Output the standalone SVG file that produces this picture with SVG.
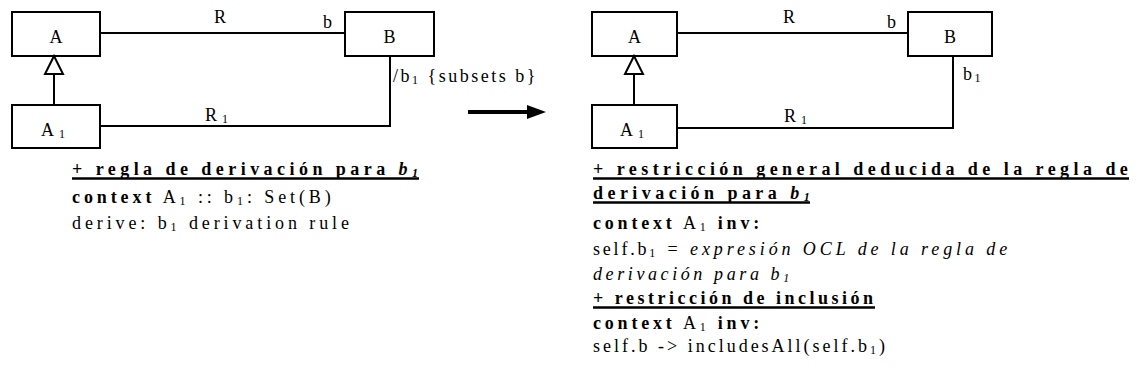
<svg xmlns="http://www.w3.org/2000/svg" width="1136" height="380" viewBox="0 0 1136 380">
  <style>
    text { font-family: "Liberation Serif", "Times New Roman", serif; fill: #000; }
    .box { fill: #fff; stroke: #000; stroke-width: 2; }
    .ln { fill: none; stroke: #000; stroke-width: 2; }
    .gen { fill: #fff; stroke: #000; stroke-width: 2; stroke-linejoin: miter; }
    .lbl { font-size: 18px; }
    .rl { font-size: 18px; }
    .t { font-size: 18px; letter-spacing: 3.9px; }
    .h { font-weight: bold; letter-spacing: 4.45px; }
    .b { font-weight: bold; }
    .i { font-style: italic; }
    .sub { font-size: 12px; }
    .ul { stroke: #000; stroke-width: 2.5; }
  </style>

  <!-- left model: derived end b1 -->
  <g id="l-A">
    <rect class="box" x="12" y="12" width="88" height="44"/>
    <text class="lbl" x="56" y="43" text-anchor="middle">A</text>
  </g>
  <g id="l-B">
    <rect class="box" x="345" y="12" width="89" height="44"/>
    <text class="lbl" x="389.5" y="43" text-anchor="middle">B</text>
  </g>
  <g id="l-A1">
    <rect class="box" x="12" y="105" width="88" height="43"/>
    <text class="lbl" x="41" y="136">A<tspan class="sub" dx="5" dy="2">1</tspan></text>
  </g>

  <!-- right model: b1 as a base end -->
  <g id="r-A">
    <rect class="box" x="592" y="12" width="85" height="44"/>
    <text class="lbl" x="634.5" y="43" text-anchor="middle">A</text>
  </g>
  <g id="r-B">
    <rect class="box" x="908" y="12" width="84" height="44"/>
    <text class="lbl" x="950" y="43" text-anchor="middle">B</text>
  </g>
  <g id="r-A1">
    <rect class="box" x="592" y="105" width="85" height="43"/>
    <text class="lbl" x="620" y="136">A<tspan class="sub" dx="5" dy="2">1</tspan></text>
  </g>

  <g id="connectors">
    <!-- left -->
    <line class="ln" x1="100" y1="33" x2="345" y2="33"/>
    <line class="ln" x1="54" y1="105" x2="54" y2="74"/>
    <polygon class="gen" points="54,56 45,74 63,74"/>
    <polyline class="ln" points="100,126 390,126 390,56"/>
    <text class="rl" x="220" y="23" text-anchor="middle">R</text>
    <text class="rl" x="323" y="28">b</text>
    <text class="rl" x="205" y="121">R<tspan class="sub" dx="5" dy="2">1</tspan></text>
    <text class="t" x="393" y="82" style="letter-spacing:2.5px">/b<tspan class="sub" dy="2">1</tspan><tspan dy="-2"> {subsets b}</tspan></text>

    <!-- transformation arrow -->
    <line x1="468" y1="112" x2="530" y2="112" stroke="#000" stroke-width="4"/>
    <polygon points="527,105 546,112 527,119" fill="#000"/>

    <!-- right -->
    <line class="ln" x1="677" y1="33" x2="908" y2="33"/>
    <line class="ln" x1="634" y1="105" x2="634" y2="74"/>
    <polygon class="gen" points="634,56 625,74 643,74"/>
    <polyline class="ln" points="677,128 953,128 953,56"/>
    <text class="rl" x="789" y="23" text-anchor="middle">R</text>
    <text class="rl" x="887" y="28">b</text>
    <text class="rl" x="784" y="122">R<tspan class="sub" dx="5" dy="2">1</tspan></text>
    <text class="t" x="963" y="80" style="letter-spacing:2.5px">b<tspan class="sub" dy="2">1</tspan></text>
  </g>

  <!-- left notes -->
  <text class="t h" x="72" y="175">+ regla de derivación para <tspan class="i">b</tspan><tspan class="i sub" dy="2">1</tspan></text>
  <line class="ul" x1="72" y1="178.5" x2="419" y2="178.5"/>
  <text class="t" x="72" y="203"><tspan class="b">context</tspan> A<tspan class="sub" dy="2">1</tspan><tspan dy="-2"> :: b</tspan><tspan class="sub" dy="2">1</tspan><tspan dy="-2">: Set(B)</tspan></text>
  <text class="t" x="72" y="229">derive: b<tspan class="sub" dy="2">1</tspan><tspan dy="-2"> derivation rule</tspan></text>

  <!-- right notes -->
  <text class="t h" x="593" y="175">+ restricción general deducida de la regla de</text>
  <line class="ul" x1="593" y1="178.5" x2="1129" y2="178.5"/>
  <text class="t h" x="593" y="199">derivación para <tspan class="i">b</tspan><tspan class="i sub" dy="2">1</tspan></text>
  <line class="ul" x1="593" y1="202.5" x2="810" y2="202.5"/>
  <text class="t" x="593" y="229" style="letter-spacing:3.8px"><tspan class="b">context</tspan> A<tspan class="sub" dy="2">1</tspan><tspan class="b" dy="-2"> inv:</tspan></text>
  <text class="t" x="593" y="255"><tspan style="letter-spacing:2.8px">self.b</tspan><tspan class="sub" dy="2">1</tspan><tspan dy="-2"> = </tspan><tspan class="i">expresión OCL de la regla de</tspan></text>
  <text class="t i" x="593" y="280" style="letter-spacing:3.6px">derivación para  b<tspan class="sub" dy="2">1</tspan></text>
  <text class="t h" x="593" y="304" style="letter-spacing:3.5px">+ restricción de inclusión</text>
  <line class="ul" x1="593" y1="307.5" x2="875" y2="307.5"/>
  <text class="t" x="593" y="329" style="letter-spacing:3.8px"><tspan class="b">context</tspan> A<tspan class="sub" dy="2">1</tspan><tspan class="b" dy="-2"> inv:</tspan></text>
  <text class="t" x="593" y="352" style="letter-spacing:3px">self.b -&gt; includesAll(self.b<tspan class="sub" dy="2">1</tspan><tspan dy="-2">)</tspan></text>
</svg>
